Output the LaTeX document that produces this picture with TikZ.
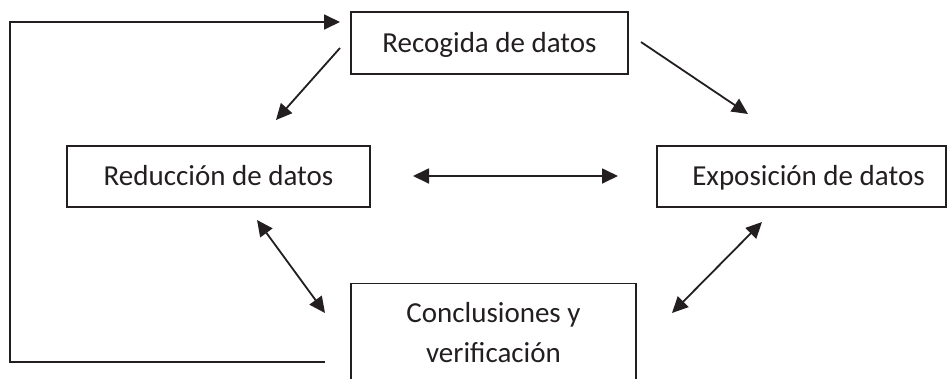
\documentclass[tikz,border=0pt]{standalone}
\usepackage{fontspec}
\setmainfont{Carlito}
\usetikzlibrary{arrows.meta}
\definecolor{ink}{HTML}{231F20}
\begin{document}
\begin{tikzpicture}[x=1pt,y=-1pt,
  box/.style={draw=ink, line width=1.2pt, inner sep=0pt, text=ink,
    font=\fontsize{29}{40}\selectfont, text height=18pt, text depth=0pt},
  arr/.style={draw=ink, line width=1.8pt, -{Triangle[length=16pt,width=15pt]}},
  darr/.style={draw=ink, line width=1.8pt, {Triangle[length=16pt,width=15pt]}-{Triangle[length=16pt,width=15pt]}},
  feed/.style={draw=ink, line width=1.8pt, -{Triangle[length=16pt,width=15pt]}},
  txt/.style={text=ink, inner sep=0pt, align=center, font=\fontsize{29}{40}\selectfont}]
\useasboundingbox (0,0) rectangle (948,378);
\clip (0,0) rectangle (948,378);

% boxes
\node[box, minimum width=277pt, minimum height=62pt] (rec) at (489.5,43) {Recogida de datos};
\node[box, minimum width=303pt, minimum height=61pt] (red) at (218.5,176.5) {Reducción de datos};
\node[box, minimum width=289pt, minimum height=61pt] (exp) at (801.5,176.5) {\hspace{14pt}Exposición de datos};
\node[draw=ink, line width=1.2pt, minimum width=285pt, minimum height=130pt, inner sep=0pt, anchor=north] (con) at (493.5,283) {};
\node[txt, anchor=north] (contxt) at (493.5,302) {Conclusiones y\\verificación};

% arrow end points
\coordinate (a1s) at (340,48);   \coordinate (a1e) at (276,120);
\coordinate (a2s) at (641,42);   \coordinate (a2e) at (748,114);
\coordinate (a3s) at (413,176);  \coordinate (a3e) at (618,176);
\coordinate (a4s) at (257,220);  \coordinate (a4e) at (325,313);
\coordinate (a5s) at (762,222);  \coordinate (a5e) at (672,313);
\coordinate (fbs) at (325,362);  \coordinate (fbe) at (340,22);

% connectors
\draw[arr] (a1s) -- (a1e);
\draw[arr] (a2s) -- (a2e);
\draw[darr] (a3s) -- (a3e);
\draw[darr] (a4s) -- (a4e);
\draw[darr] (a5s) -- (a5e);
\draw[feed] (fbs) -- (10,362) -- (10,22) -- (fbe);
\end{tikzpicture}
\end{document}
